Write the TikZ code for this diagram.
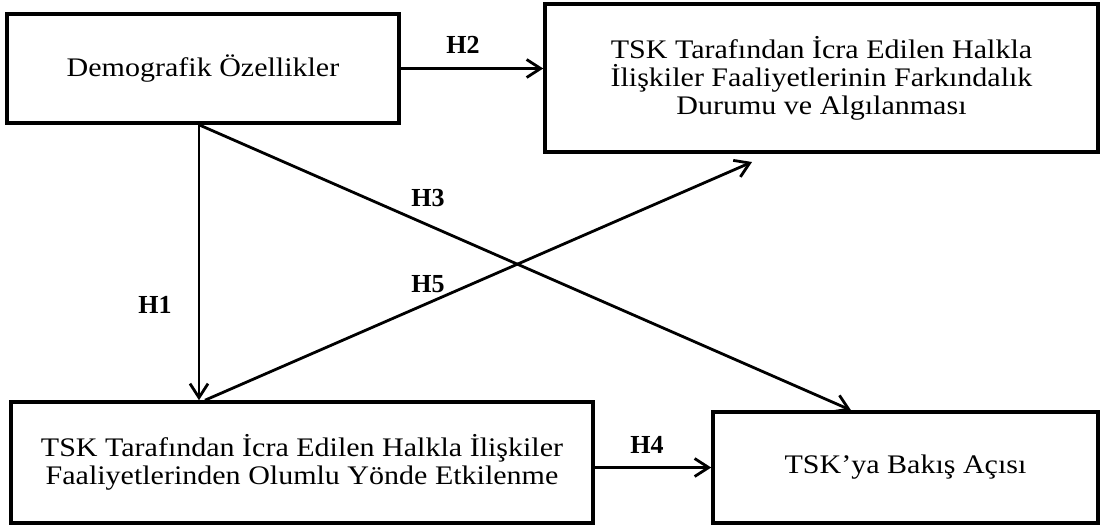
\documentclass[tikz,border=0pt]{standalone}
\usepackage{fontspec}
\setmainfont{Liberation Serif}
\newfontfamily\boxfont[FakeStretch=1.12]{Liberation Serif}
\usetikzlibrary{arrows.meta,calc}
\tikzset{
  box/.style={draw, line width=1.8pt, inner sep=0pt, align=center,
    font=\boxfont\fontsize{13.4}{14}\selectfont},
  conn/.style={line width=1.4pt, -{Straight Barb[length=7pt,width=9pt,line width=1.4pt]}},
  hlab/.style={font=\bfseries\fontsize{13}{15}\selectfont, inner sep=0pt}
}
\begin{document}
\begin{tikzpicture}[x=0.5pt,y=-0.5pt]
\useasboundingbox (0,0) rectangle (1101,526);
\node[box, minimum width=196pt, minimum height=54.5pt] (A) at (203,68.5) {Demografik Özellikler};
\node[box, minimum width=276.5pt, minimum height=74pt] (B) at (821.5,78) {TSK Tarafından İcra Edilen Halkla\\İlişkiler Faaliyetlerinin Farkındalık\\Durumu ve Algılanması};
\node[box, minimum width=291pt, minimum height=60.5pt] (C) at (302,462.5) {TSK Tarafından İcra Edilen Halkla İlişkiler\\Faaliyetlerinden Olumlu Yönde Etkilenme};
\node[box, minimum width=192.5pt, minimum height=55.5pt] (D) at (905.5,467.5) {TSK’ya Bakış Açısı};
\coordinate (h1) at (199,0);
\coordinate (h3) at (851,0);
\coordinate (h5) at (205,0);
\coordinate (h5end) at (752,162);
\draw[conn] (A.east) -- (A.east -| B.west);
\draw[conn] (A.south -| h1) -- (C.north -| h1);
\draw[conn] (A.south -| h1) -- (D.north -| h3);
\draw[conn] (C.north -| h5) -- (h5end);
\draw[conn] (C.east |- D.west) -- (D.west);
\node[hlab] (L2) at (463,45) {H2};
\node[hlab] (L1) at (155,305) {H1};
\node[hlab] (L3) at (428,198) {H3};
\node[hlab] (L5) at (428,284) {H5};
\node[hlab] (L4) at (647,445) {H4};
\end{tikzpicture}
\end{document}
